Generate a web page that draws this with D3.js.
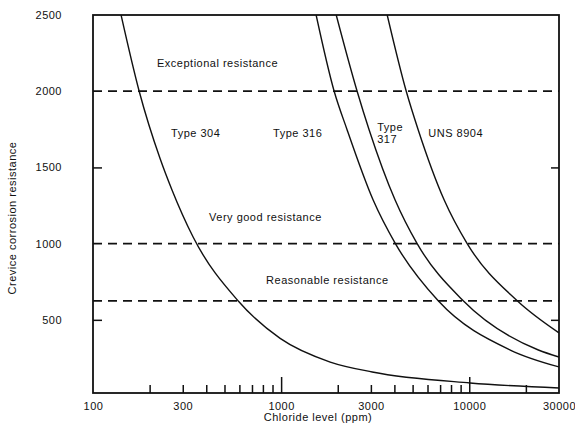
<!DOCTYPE html>
<html>
<head>
<meta charset="utf-8">
<script src="https://cdn.jsdelivr.net/npm/d3@7"></script>
<style>
  body { margin: 0; background: #fff; }
  text { font-family: "Liberation Sans", Arial, sans-serif; font-size: 11px; fill: #111; letter-spacing: 0.5px; }
</style>
</head>
<body>
<script>
// chloride (ppm) vs crevice corrosion resistance
var type304X = [141, 176, 227, 263, 340, 590, 988, 1824, 3050, 10100, 30000];
var type304Y = [2500, 2000, 1560, 1352, 1045, 625, 378, 223, 158, 86, 53];

var type316X = [1535, 1914, 2244, 3085, 4050, 6840, 16520, 30000];
var type316Y = [2500, 2000, 1746, 1286, 1000, 625, 302, 191];

var type317X = [1963, 2535, 2938, 4036, 5285, 9290, 23300, 30000];
var type317Y = [2500, 2000, 1746, 1286, 1000, 625, 302, 256];

var unsX = [3664, 4625, 5357, 7360, 9750, 17990, 30000];
var unsY = [2500, 2000, 1746, 1286, 1000, 625, 414];

var thresholds = [2000, 1000, 625];

var xTickLabels = [100, 300, 1000, 3000, 10000, 30000];
var xMinorTicks = [200, 300, 400, 500, 600, 700, 800, 900, 2000, 3000, 4000, 5000, 6000, 7000, 8000, 9000, 20000];
var xMajorTicks = [1000, 10000];
var yTickLabels = [500, 1000, 1500, 2000, 2500];
var yInnerTicks = [500, 1500];

var notes = [
    { text: "Exceptional resistance", x: 219, y: 2159 },
    { text: "Type 304", x: 260, y: 1700 },
    { text: "Type 316", x: 906, y: 1700 },
    { text: "Type", x: 3243, y: 1739 },
    { text: "317", x: 3243, y: 1660 },
    { text: "UNS 8904", x: 6056, y: 1700 },
    { text: "Very good resistance", x: 414, y: 1148 },
    { text: "Reasonable resistance", x: 832, y: 735 }
];

const width = 575;
const height = 426;
const margin = { left: 93, right: 559, top: 15, bottom: 393 };

const x = d3.scaleLog()
              .domain([100, 30000])
              .range([margin.left, margin.right]);

const y = d3.scaleLinear()
              .domain([20, 2500])
              .range([margin.bottom, margin.top]);

const svg = d3.select("body").append("svg").attr("width", width).attr("height", height);

svg.append("defs").append("clipPath").attr("id", "plot")
    .append("rect")
    .attr("x", margin.left).attr("y", margin.top)
    .attr("width", margin.right - margin.left).attr("height", margin.bottom - margin.top);

// dashed resistance bands
svg.selectAll(".band")
    .data(thresholds)
    .enter().append("line")
    .attr("x1", margin.left).attr("x2", margin.right)
    .attr("y1", d => y(d)).attr("y2", d => y(d))
    .attr("stroke", "#111")
    .attr("stroke-width", 1.8)
    .attr("stroke-dasharray", "9,6");

const line = d3.line()
                .x(d => x(d[0]))
                .y(d => y(d[1]))
                .curve(d3.curveMonotoneX);

const series = [
    [type304X, type304Y],
    [type316X, type316Y],
    [type317X, type317Y],
    [unsX, unsY]
];

svg.append("g").attr("clip-path", "url(#plot)")
    .selectAll("path")
    .data(series)
    .enter().append("path")
    .attr("d", s => line(s[0].map((v, i) => [v, s[1][i]])))
    .attr("fill", "none")
    .attr("stroke", "#111")
    .attr("stroke-width", 1.4);

// x axis labels and inside ticks
svg.append("g")
    .attr("transform", `translate(0, ${margin.bottom})`)
    .call(d3.axisBottom(x).tickValues(xTickLabels).tickSize(0).tickPadding(9).tickFormat(d3.format("d")))
    .call(g => g.select(".domain").remove());

svg.append("g")
    .attr("transform", `translate(0, ${margin.bottom})`)
    .call(d3.axisBottom(x).tickValues(xMinorTicks).tickSize(-8).tickFormat(""))
    .call(g => g.select(".domain").remove())
    .selectAll("line").attr("stroke", "#111").attr("stroke-width", 1.5);

svg.append("g")
    .attr("transform", `translate(0, ${margin.bottom})`)
    .call(d3.axisBottom(x).tickValues(xMajorTicks).tickSize(-16).tickFormat(""))
    .call(g => g.select(".domain").remove())
    .selectAll("line").attr("stroke", "#111").attr("stroke-width", 1.5);

// y axis labels and inside ticks
svg.append("g")
    .attr("transform", `translate(${margin.left}, 0)`)
    .call(d3.axisLeft(y).tickValues(yTickLabels).tickSize(0).tickPadding(31).tickFormat(d3.format("d")))
    .call(g => g.select(".domain").remove());

svg.append("g")
    .attr("transform", `translate(${margin.left}, 0)`)
    .call(d3.axisLeft(y).tickValues(yInnerTicks).tickSize(-9).tickFormat(""))
    .call(g => g.select(".domain").remove())
    .selectAll("line").attr("stroke", "#111").attr("stroke-width", 1.5);

svg.append("g")
    .attr("transform", `translate(${margin.right}, 0)`)
    .call(d3.axisRight(y).tickValues(yInnerTicks).tickSize(-8).tickFormat(""))
    .call(g => g.select(".domain").remove())
    .selectAll("line").attr("stroke", "#111").attr("stroke-width", 1.5);

svg.selectAll(".tick text")
    .attr("font-family", "Liberation Sans, Arial, sans-serif")
    .attr("font-size", 11)
    .attr("fill", "#111");

// frame
svg.append("rect")
    .attr("x", margin.left).attr("y", margin.top)
    .attr("width", margin.right - margin.left).attr("height", margin.bottom - margin.top)
    .attr("fill", "none")
    .attr("stroke", "#111")
    .attr("stroke-width", 1.8);

svg.selectAll(".note")
    .data(notes)
    .enter().append("text")
    .attr("x", d => x(d.x))
    .attr("y", d => y(d.y))
    .text(d => d.text);

svg.append("text")
    .attr("x", 318).attr("y", 421)
    .attr("text-anchor", "middle")
    .text("Chloride level (ppm)");

svg.append("text")
    .attr("transform", "translate(16, 218) rotate(-90)")
    .attr("text-anchor", "middle")
    .text("Crevice corrosion resistance");
</script>
</body>
</html>
